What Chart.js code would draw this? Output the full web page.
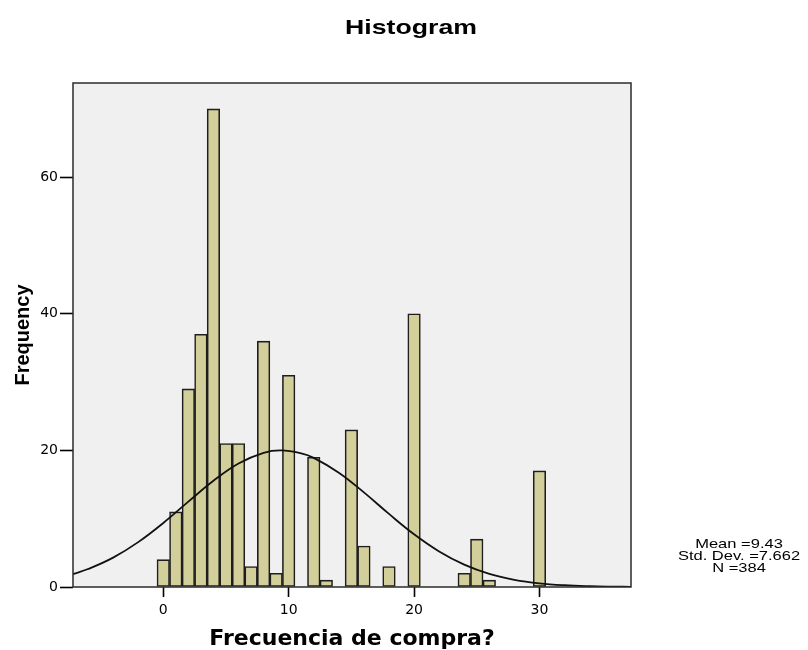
<!DOCTYPE html>
<html lang="es">
<head>
<meta charset="UTF-8">
<title>Histogram</title>
<style>
body{margin:0;padding:0;background:#fff;}
canvas{display:block;}
</style>
<script src="https://cdn.jsdelivr.net/npm/chart.js"></script>
</head>
<body>
<canvas id="chart" width="808" height="650"></canvas>
<script>
// Histograma: valores de la variable (centro de cada barra) y frecuencias
const binValues = [0,1,2,3,4,5,6,7,8,9,10,11,12,13,14,15,16,17,18,19,20,21,22,23,24,25,26,27,28,29,30];
const frequencies = [4,11,29,37,70,21,21,3,36,2,31,0,19,1,0,23,6,0,3,0,40,0,0,0,2,7,1,0,0,0,17];

// Curva normal
const curveX = [-7.2,-6,-4,-2,0,2,4,6,8,9.4,11,12,14,16,18,20,22,24,26,28,30,32,34,36,37.3];
const curveY = [1.90,2.63,4.30,6.57,9.38,12.50,15.56,18.09,19.65,20.0,19.57,18.91,16.74,13.85,10.70,7.72,5.21,3.28,1.93,1.06,0.54,0.26,0.12,0.05,0.02];

const xTicks = [0,10,20,30];
const yTicks = [0,20,40,60];
const statsLines = ['Mean =9.43','Std. Dev. =7.662','N =384'];

// fondo gris y marco del area del grafico
const framePlugin = {
  id:'frame',
  beforeDraw(chart){
    const {ctx, chartArea:a} = chart;
    ctx.save();
    ctx.fillStyle='#f0f0f0';
    ctx.fillRect(a.left,a.top,a.right-a.left,a.bottom-a.top);
    ctx.restore();
  },
  afterDatasetsDraw(chart){
    const {ctx, chartArea:a} = chart;
    ctx.save();
    ctx.strokeStyle='#2b2b2b';
    ctx.lineWidth=1.5;
    ctx.strokeRect(a.left,a.top,a.right-a.left,a.bottom-a.top);
    ctx.restore();
  },
  afterDraw(chart){
    const ctx = chart.ctx;
    ctx.save();
    ctx.fillStyle='#000';
    ctx.textAlign='center';
    ctx.textBaseline='middle';
    // titulo (estirado en horizontal como en SPSS)
    ctx.save();
    ctx.translate(411,28);
    ctx.scale(1.27,1);
    ctx.font='bold 21px "Liberation Sans", Arial, sans-serif';
    ctx.fillText('Histogram',0,0);
    ctx.restore();
    // estadisticos
    statsLines.forEach((t,i)=>{
      ctx.save();
      ctx.translate(739,544+i*12);
      ctx.scale(1.27,1);
      ctx.font='13px "Liberation Sans", Arial, sans-serif';
      ctx.fillText(t,0,0);
      ctx.restore();
    });
    ctx.restore();
  }
};

const ctx = document.getElementById('chart').getContext('2d');
new Chart(ctx,{
  type:'bar',
  data:{
    datasets:[
      {
        type:'line',
        data:curveX.map((x,i)=>({x:x,y:curveY[i]})),
        borderColor:'#111',
        borderWidth:1.8,
        pointRadius:0,
        tension:0.4,
        fill:false,
        order:0
      },
      {
        type:'bar',
        data:binValues.map((x,i)=>({x:x,y:frequencies[i]||null})),
        backgroundColor:'#d3cf9b',
        borderColor:'#1e1e1e',
        borderWidth:1.6,
        borderSkipped:false,
        barPercentage:1,
        categoryPercentage:1,
        order:1
      }
    ]
  },
  options:{
    responsive:false,
    animation:false,
    devicePixelRatio:1,
    layout:{padding:{top:83,right:177,left:0,bottom:0}},
    plugins:{legend:{display:false},tooltip:{enabled:false},title:{display:false}},
    scales:{
      x:{
        type:'linear',
        min:-7.2,
        max:37.3,
        offset:false,
        afterBuildTicks(s){ s.ticks = xTicks.map(v=>({value:v})); },
        afterFit(s){ s.height = 63; },
        grid:{display:true,offset:false,drawOnChartArea:false,drawTicks:true,tickLength:10,tickColor:'#000',tickWidth:1.6},
        border:{display:false},
        ticks:{color:'#000',padding:5,maxRotation:0,font:{family:'"DejaVu Sans"',size:14}},
        title:{display:true,text:'Frecuencia de compra?',color:'#000',padding:{top:0,bottom:0},font:{family:'"DejaVu Sans"',size:22,weight:'bold',lineHeight:1}}
      },
      y:{
        min:0,
        max:73.8,
        afterBuildTicks(s){ s.ticks = yTicks.map(v=>({value:v})); },
        afterFit(s){ s.width = 73; },
        grid:{display:true,drawOnChartArea:false,drawTicks:true,tickLength:13,tickColor:'#000',tickWidth:1.6},
        border:{display:false},
        ticks:{color:'#000',padding:2,font:{family:'"DejaVu Sans"',size:14}},
        title:{display:true,text:'Frequency',color:'#000',padding:{top:11,bottom:0},font:{family:'"Liberation Sans"',size:20,weight:'bold'}}
      }
    }
  },
  plugins:[framePlugin]
});
</script>
</body>
</html>
